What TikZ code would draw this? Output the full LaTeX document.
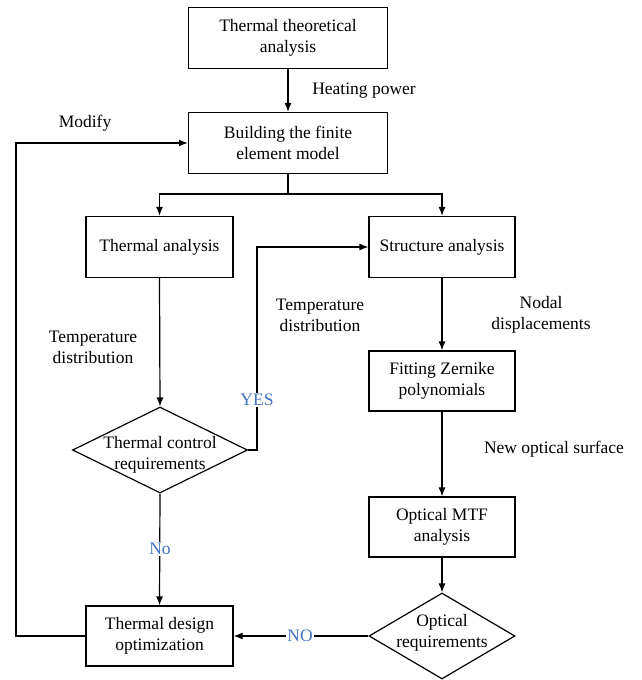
\documentclass[tikz,border=0pt]{standalone}
\usepackage{fontspec}
\setmainfont{Liberation Serif}
\usetikzlibrary{shapes.geometric,arrows.meta}
\definecolor{lblue}{HTML}{4472C4}
\begin{document}
\begin{tikzpicture}[x=1pt,y=-1pt,
  font=\fontsize{17.5}{21}\selectfont,
  every path/.style={line width=1.2pt},
  box/.style={draw, line width=1.2pt, align=center, inner sep=0pt},
  dia/.style={draw, diamond, line width=1.2pt, inner sep=0pt},
  lbl/.style={align=center, inner sep=1pt},
  yn/.style={text=lblue, fill=white, inner sep=1pt},
  arr/.style={-{Latex[length=9pt,width=7pt]}, line width=1.2pt}]
\useasboundingbox (0,0) rectangle (642,680);
\node[box, minimum width=199pt, minimum height=61pt] (b1) at (288,38) {Thermal theoretical\\analysis};
\node[box, minimum width=199pt, minimum height=61pt] (b2) at (288,143) {Building the finite\\element model};
\node[box, minimum width=147pt, minimum height=61pt] (b3) at (159.5,247) {Thermal analysis};
\node[box, minimum width=146pt, minimum height=61pt] (b4) at (442,247) {Structure analysis};
\node[box, minimum width=146pt, minimum height=60pt] (b5) at (442,381) {Fitting Zernike\\polynomials};
\node[box, minimum width=146pt, minimum height=60pt] (b6) at (442,527) {Optical MTF\\analysis};
\node[box, minimum width=147pt, minimum height=60pt] (b7) at (159.5,636) {Thermal design\\optimization};
\node[dia, minimum width=175pt, minimum height=86pt] (d1) at (160,450) {};
\node[lbl] (d1t) at ([yshift=-5pt]d1.center) {Thermal control\\requirements};
\node[dia, minimum width=146pt, minimum height=86pt] (d2) at (442,636) {};
\node[lbl] (d2t) at ([yshift=3pt]d2.center) {Optical\\requirements};

\node[lbl] (hp) at (364,91) {Heating power};
\node[lbl] (mod) at (85,123) {Modify};
\node[lbl] (td1) at (93,347) {Temperature\\distribution};
\node[lbl] (td2) at (320,315) {Temperature\\distribution};
\node[lbl] (nd) at (541,315) {Nodal\\displacements};
\node[lbl] (nos) at (554,449) {New optical surface};

\coordinate (split) at (288,194);
\coordinate (yesc) at (257,450);
\coordinate (fb) at (16,636);

\draw[arr] (b1.south) -- (b2.north);
\draw (b2.south) -- (split);
\draw[arr] (split) -| (b3.north);
\draw[arr] (split) -| (b4.north);
\draw[arr] (b3.south) -- (d1.north);
\draw[arr] (d1.east) -- (yesc) |- (b4.west);
\draw[arr] (b4.south) -- (b5.north);
\draw[arr] (b5.south) -- (b6.north);
\draw[arr] (b6.south) -- (d2.north);
\draw[arr] (d2.west) -- (b7.east);
\draw[arr] (d1.south) -- (b7.north);
\draw[arr] (b7.west) -- (fb) |- (b2.west);

\node[yn] (yes) at (257,400) {YES};
\node[yn] (no1) at (160,549) {No};
\node[yn] (no2) at (300,636) {NO};
\end{tikzpicture}
\end{document}
